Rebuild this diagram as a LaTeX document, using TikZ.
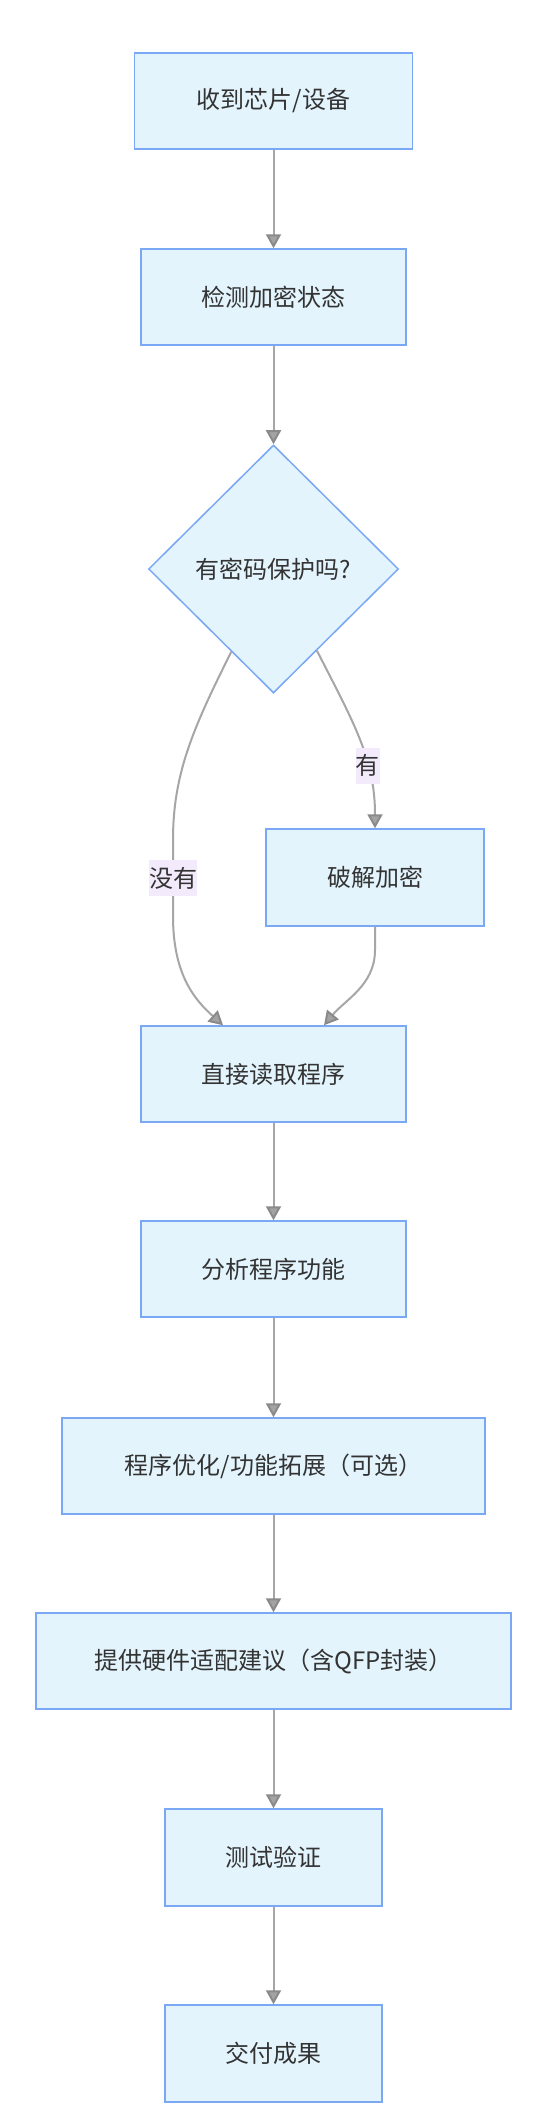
\documentclass[tikz,border=0pt]{standalone}
\usepackage{fontspec}
\setmainfont{Noto Sans CJK SC}
\usetikzlibrary{arrows.meta, shapes.geometric, calc}
\newlength{\px}
\setlength{\px}{0.75pt}
\definecolor{boxfill}{HTML}{E3F4FD}
\definecolor{boxline}{HTML}{7AA8F5}
\definecolor{edgegray}{HTML}{A6A6A6}
\definecolor{tipfill}{HTML}{A3A3A3}
\definecolor{tipline}{HTML}{8A8A8A}
\definecolor{tagfill}{HTML}{F3EBFC}
\definecolor{txt}{HTML}{333333}
\tikzset{
  stepbox/.style={draw=boxline, fill=boxfill, line width=1.5\px, inner sep=0pt,
    minimum height=96\px, text=txt, font=\fontsize{18}{22}\selectfont},
  choice/.style={diamond, aspect=1, draw=boxline, fill=boxfill, line width=1.5\px,
    inner sep=0pt, minimum width=250\px, minimum height=248\px, text=txt,
    font=\fontsize{18}{22}\selectfont},
  flow/.style={draw=edgegray, line width=2\px,
    -{Triangle[width=11.25pt, length=10.5pt, color=tipline, fill=tipfill]}},
  tag/.style={fill=tagfill, text=txt, inner sep=0pt, minimum height=36\px,
    font=\fontsize{18}{22}\selectfont}
}
\begin{document}
\begin{tikzpicture}[x=0.75pt, y=-0.75pt]
        \fill[white] (0,0) rectangle (555,2123);
        \useasboundingbox (0,0) rectangle (555,2123);
        \node[stepbox, minimum width=278\px] (recv) at (273.5,101) {收到芯片/设备};
        \node[stepbox, minimum width=265\px] (detect) at (273.5,297) {检测加密状态};
        \node[choice] (dec) at (273.5,569) {有密码保护吗?};
        \node[stepbox, minimum width=218\px, minimum height=97\px] (crack) at (375,877.5) {破解加密};
        \node[stepbox, minimum width=265\px] (read) at (273.5,1074) {直接读取程序};
        \node[stepbox, minimum width=265\px] (analyze) at (273.5,1269) {分析程序功能};
        \node[stepbox, minimum width=423\px] (optim) at (273.5,1466) {程序优化/功能拓展（可选）};
        \node[stepbox, minimum width=475\px] (suggest) at (273.5,1661) {提供硬件适配建议（含QFP封装）};
        \node[stepbox, minimum width=217\px, minimum height=97\px] (test) at (273.5,1857.5) {测试验证};
        \node[stepbox, minimum width=217\px, minimum height=97\px] (deliver) at (273.5,2053.5) {交付成果};
        \draw[flow] (recv) -- (detect);
        \draw[flow] (detect) -- (dec);
        \draw[flow] (dec.243) .. controls (192,730) and (173,775) .. (173,840)
            -- node[tag] (no) {没有} (173,916)
            .. controls (173,975) and (195,1000) .. ($(read.north)+(-50.5,0)$);
        \draw[flow] (dec.298.5) .. controls (355,725) and (375,760) .. (crack.north)
            node[tag, pos=0.65] (yes) {有};
        \draw[flow] (crack.south) -- (375,950) .. controls (375,985) and (345,1000) .. ($(read.north)+(50.5,0)$);
        \foreach \a/\b in {read/analyze, analyze/optim, optim/suggest, suggest/test, test/deliver}
        \draw[flow] (\a) -- (\b);
\end{tikzpicture}
\end{document}
